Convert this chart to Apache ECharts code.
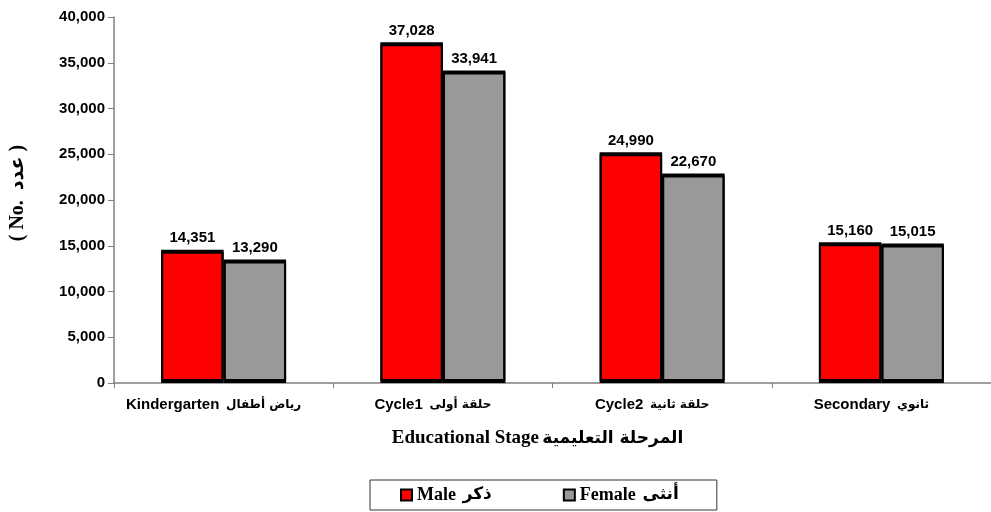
<!DOCTYPE html>
<html>
<head>
<meta charset="utf-8">
<script src="https://cdn.jsdelivr.net/npm/echarts@6/dist/echarts.min.js"></script>
<style>
  html, body { margin: 0; padding: 0; background: #fff; }
  #chart { width: 991px; height: 512px; }
</style>
</head>
<body>
<div id="chart"></div>
<script>
// categories (English / Arabic)
const stagesEn = ["Kindergarten", "Cycle1", "Cycle2", "Secondary"];
const stagesAr = ["رياض أطفال", "حلقة أولى", "حلقة ثانية", "ثانوي"];
// values
const maleValues = [14351, 37028, 24990, 15160];
const femaleValues = [13290, 33941, 22670, 15015];
const yTicks = { min: 0, max: 40000, interval: 5000 };

const categories = stagesEn.map((s, i) => s + "|" + stagesAr[i]);

const sansBold = { fontFamily: "Liberation Sans, Arial", fontWeight: "bold", color: "#000" };
const serifBold = { fontFamily: "Liberation Serif, Times New Roman", fontWeight: "bold", color: "#000" };
const arabicBold = { fontFamily: "DejaVu Sans", fontWeight: "bold", color: "#000" };

const fmt = (v) => v.toLocaleString("en-US");

// black top edge like the original's flat 3D bars
const barStyle = (color) => ({
  color: color,
  borderColor: "#000",
  borderWidth: 2,
  shadowColor: "#000",
  shadowBlur: 0,
  shadowOffsetY: -2,
});

const chart = echarts.init(document.getElementById("chart"), null, { renderer: "canvas" });

chart.setOption({
  animation: false,
  backgroundColor: "#fff",
  grid: { left: 113, top: 17, width: 888, height: 366 },
  xAxis: {
    type: "category",
    data: categories,
    axisLine: { lineStyle: { color: "#808080", width: 1.5 } },
    axisTick: { show: true, interval: 0, length: 5, lineStyle: { color: "#808080" } },
    axisLabel: {
      interval: 0,
      margin: 14,
      padding: [0, 20, 0, 0],
      formatter: (v) => {
        const [en, ar] = v.split("|");
        return "{en|" + en + "}  {ar|" + ar + "}";
      },
      rich: {
        en: { ...sansBold, fontSize: 15 },
        ar: { ...arabicBold, fontSize: 12 },
      },
    },
    name: "{en|Educational Stage} {ar|المرحلة التعليمية}",
    nameLocation: "middle",
    nameGap: 46,
    nameTextStyle: {
      padding: [0, 30, 0, 0],
      rich: {
        en: { ...serifBold, fontSize: 19 },
        ar: { ...arabicBold, fontSize: 17 },
      },
    },
  },
  yAxis: {
    type: "value",
    min: yTicks.min,
    max: yTicks.max,
    interval: yTicks.interval,
    splitLine: { show: false },
    axisLine: { show: true, lineStyle: { color: "#808080", width: 1.5 } },
    axisTick: { show: true, length: 6, lineStyle: { color: "#808080" } },
    axisLabel: { ...sansBold, fontSize: 15, margin: 9, formatter: (v) => fmt(v) },
    name: "( {en|No.}  {ar|عدد} )",
    nameLocation: "middle",
    nameGap: 86,
    nameTextStyle: {
      ...serifBold,
      fontSize: 20,
      padding: [0, 0, 0, 14],
      rich: {
        en: { ...serifBold, fontSize: 20 },
        ar: { ...arabicBold, fontSize: 19 },
      },
    },
  },
  legend: {
    left: 370,
    top: 480,
    orient: "horizontal",
    padding: [6, 38, 6, 30],
    itemGap: 71,
    itemWidth: 11,
    itemHeight: 11,
    borderColor: "#333",
    borderWidth: 1,
    icon: "rect",
    data: ["Male", "Female"],
    formatter: (name) => (name === "Male" ? "{en|Male}  {ar|ذكر}" : "{en|Female}  {ar|أنثى}"),
    textStyle: {
      rich: {
        en: { ...serifBold, fontSize: 18 },
        ar: { ...arabicBold, fontSize: 17 },
      },
    },
  },
  series: [
    {
      name: "Male",
      type: "bar",
      data: maleValues,
      barWidth: "28.5%",
      barGap: "0%",
      itemStyle: barStyle("#FF0000"),
      label: { show: true, position: "top", distance: 6, ...sansBold, fontSize: 15, formatter: (p) => fmt(p.value) },
    },
    {
      name: "Female",
      type: "bar",
      data: femaleValues,
      barWidth: "28.5%",
      itemStyle: barStyle("#999999"),
      label: { show: true, position: "top", distance: 6, ...sansBold, fontSize: 15, formatter: (p) => fmt(p.value) },
    },
  ],
});
</script>
</body>
</html>
